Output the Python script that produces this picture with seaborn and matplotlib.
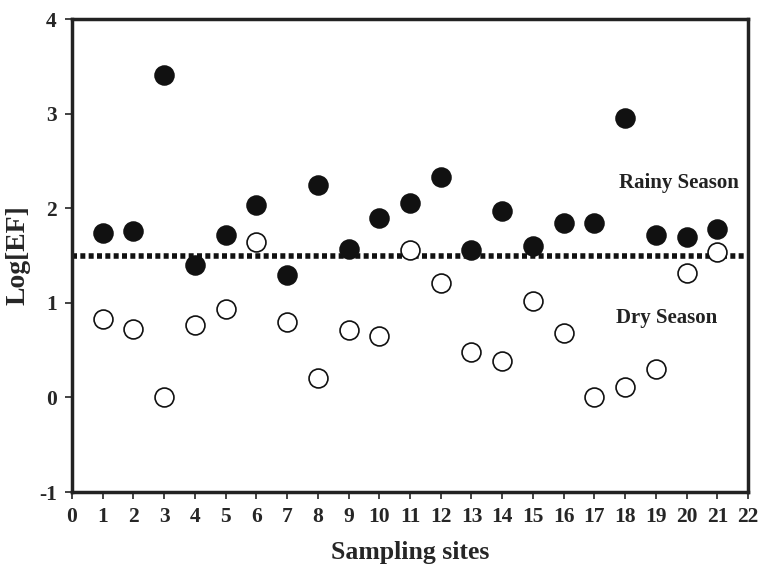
import matplotlib
matplotlib.use("Agg")
import matplotlib.pyplot as plt
import seaborn as sns
import pandas as pd

sites = list(range(1, 22))
rainy = [1.74, 1.76, 3.41, 1.40, 1.72, 2.03, 1.29, 2.25, 1.57, 1.90, 2.05,
         2.33, 1.56, 1.97, 1.60, 1.84, 1.84, 2.95, 1.72, 1.70, 1.78]
dry = [0.83, 0.72, 0.00, 0.77, 0.93, 1.64, 0.80, 0.21, 0.71, 0.65, 1.56,
       1.21, 0.48, 0.39, 1.02, 0.68, 0.00, 0.11, 0.30, 1.32, 1.54]
threshold = 1.5
xticks = list(range(0, 23))
yticks = [-1, 0, 1, 2, 3, 4]

sns.set_style("ticks")
plt.rcParams['font.family'] = ['Liberation Serif', 'DejaVu Serif']

df = pd.DataFrame({
    "site": sites * 2,
    "value": rainy + dry,
    "season": ["Rainy"] * len(sites) + ["Dry"] * len(sites),
})

fig = plt.figure(figsize=(7.61, 5.66), dpi=100)
ax = fig.add_axes([0.0946, 0.1307, 0.8884, 0.8357])

ax.axhline(threshold, color="#111111", lw=4, ls=(0, (0.9, 0.6)), zorder=1)

sns.scatterplot(data=df[df.season == "Rainy"], x="site", y="value", ax=ax,
                color="#111111", edgecolor="#111111", s=185, linewidth=1.2,
                zorder=3, legend=False)
sns.scatterplot(data=df[df.season == "Dry"], x="site", y="value", ax=ax,
                color="white", edgecolor="#111111", s=185, linewidth=1.2,
                zorder=3, legend=False)

ax.set_xlim(0, 22)
ax.set_ylim(-1, 4)
ax.set_xticks(xticks)
ax.set_yticks(yticks)
ax.set_xticklabels([str(t) for t in xticks], fontsize=15.5, fontweight="bold")
ax.set_yticklabels([str(t) for t in yticks], fontsize=15.5, fontweight="bold")
ax.tick_params(direction="out", length=5, width=1.2, color="#222222", pad=6)
for sp in ax.spines.values():
    sp.set_linewidth(2.5)
    sp.set_color("#222222")

ax.set_xlabel("Sampling sites", fontsize=18.5, fontweight="bold", labelpad=10)
ax.set_ylabel("Log[EF]", fontsize=20, fontweight="bold", labelpad=6)

ax.text(19.75, 2.27, "Rainy Season", fontsize=15, fontweight="bold",
        ha="center", va="center", color="#222222")
ax.text(19.35, 0.84, "Dry Season", fontsize=15, fontweight="bold",
        ha="center", va="center", color="#222222")

fig.savefig("out.png", dpi=100)
